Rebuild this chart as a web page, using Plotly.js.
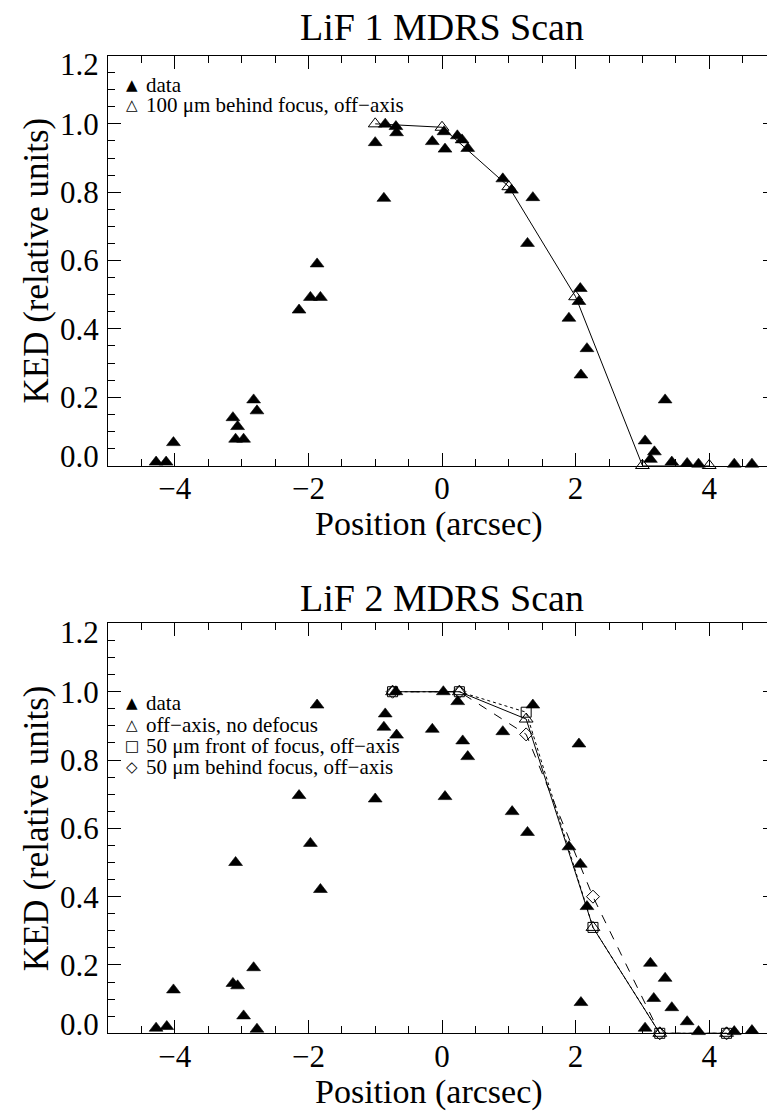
<!DOCTYPE html>
<html>
<head>
<meta charset="utf-8">
<script src="https://cdn.plot.ly/plotly-3.0.1.min.js"></script>
<style>
  html, body { margin: 0; padding: 0; overflow: hidden; background: #fff; }
  #chart { width: 800px; height: 1113px; }
</style>
</head>
<body>
<div id="chart"></div>
<script>
// ---------- data ----------
var titles = ["LiF 1 MDRS Scan", "LiF 2 MDRS Scan"];
var xTitle = "Position (arcsec)";
var yTitle = "KED (relative units)";

// LiF 1 measured data
var posTop = [-4.28,-4.13,-4.02,-3.13,-3.06,-3.09,-2.97,-2.82,-2.77,-2.14,-1.97,-1.82,-1.87,-1.00,-0.85,-0.87,-0.69,-0.68,-0.145,0.03,0.045,0.23,0.30,0.385,0.91,1.04,1.36,1.28,2.07,2.05,1.90,2.17,2.08,3.34,3.04,3.18,3.12,3.44,3.67,3.84,4.375,4.64];
var kedTop = [0.01,0.01,0.067,0.14,0.114,0.077,0.077,0.192,0.16,0.455,0.492,0.492,0.59,0.945,0.999,0.782,0.992,0.974,0.948,0.977,0.926,0.965,0.953,0.928,0.839,0.806,0.784,0.65,0.518,0.48,0.431,0.342,0.265,0.192,0.072,0.04,0.018,0.01,0.006,0.004,0.004,0.004];
// LiF 1 model: 100 um behind focus, off-axis
var modelPosTop = [-1, 0, 1, 2, 3, 4];
var modelKedTop = [1.0, 0.99, 0.816, 0.494, 0.0, 0.0];

// LiF 2 measured data
var posBot = [-4.28,-4.12,-4.02,-3.13,-3.06,-3.09,-2.97,-2.82,-2.77,-2.14,-1.97,-1.87,-1.82,-1.00,-0.85,-0.87,-0.68,-0.69,-0.145,0.02,0.045,0.235,0.31,0.385,0.91,1.05,1.28,1.36,1.90,2.05,2.07,2.17,2.08,3.12,3.34,3.17,3.44,3.04,3.67,3.84,4.375,4.64];
var kedBot = [0.015,0.02,0.127,0.146,0.139,0.50,0.051,0.192,0.012,0.696,0.556,0.961,0.421,0.686,0.935,0.896,0.873,1.0,0.89,1.0,0.693,0.971,0.856,0.81,0.883,0.649,0.588,0.961,0.546,0.847,0.495,0.371,0.09,0.205,0.161,0.102,0.075,0.015,0.034,0.005,0.005,0.008];
// LiF 2 models
var modelPosBot = [-0.74, 0.26, 1.26, 2.26, 3.26, 4.26];
var modelNoDefocus = [1.0, 1.0, 0.92, 0.31, 0.0, 0.0];
var modelFront50 = [1.0, 1.0, 0.94, 0.31, 0.0, 0.0];
var modelBehind50 = [1.0, 1.0, 0.875, 0.40, 0.0, 0.0];

var legendTop = ["data", "100 μm behind focus, off−axis"];
var legendBot = ["data", "off−axis, no defocus", "50 μm front of focus, off−axis", "50 μm behind focus, off−axis"];
var legendSymTop = ["▲", "△"];
var legendSymBot = ["▲", "△", "□", "◇"];

// y tick values and labels (end labels are drawn nudged inward, as in the reference)
var yTickVals = [0, 0.2, 0.4, 0.6, 0.8, 1.0, 1.2];
var yTickText = ["", "0.2", "0.4", "0.6", "0.8", "1.0", ""];
var yEndLabels = ["0.0", "1.2"];

// ---------- layout helpers ----------
var W = 800, H = 1113;
var ML = 108, MR = 24;
var FONT = "Liberation Serif";
function px(x) { return (x - ML) / (W - ML - MR); }
function py(y) { return 1 - y / H; }

var filled = { symbol: "triangle-up", size: 12, color: "#000", line: { color: "#000", width: 0.6 } };

var traces = [
  { x: posTop, y: kedTop, xaxis: "x", yaxis: "y", mode: "markers", marker: filled, cliponaxis: false, showlegend: false },
  { x: modelPosTop, y: modelKedTop, xaxis: "x", yaxis: "y", mode: "lines+markers", cliponaxis: false, showlegend: false,
    line: { color: "#000", width: 1 },
    marker: { symbol: "triangle-up-open", size: 12, color: "#000", line: { width: 1, color: "#000" } } },

  { x: posBot, y: kedBot, xaxis: "x2", yaxis: "y2", mode: "markers", marker: filled, cliponaxis: false, showlegend: false },
  { x: modelPosBot, y: modelNoDefocus, xaxis: "x2", yaxis: "y2", mode: "lines+markers", cliponaxis: false, showlegend: false,
    line: { color: "#000", width: 1, dash: "solid" },
    marker: { symbol: "triangle-up-open", size: 12, color: "#000", line: { width: 1, color: "#000" } } },
  { x: modelPosBot, y: modelFront50, xaxis: "x2", yaxis: "y2", mode: "lines+markers", cliponaxis: false, showlegend: false,
    line: { color: "#000", width: 1, dash: "dot" },
    marker: { symbol: "square-open", size: 10, color: "#000", line: { width: 1, color: "#000" } } },
  { x: modelPosBot, y: modelBehind50, xaxis: "x2", yaxis: "y2", mode: "lines+markers", cliponaxis: false, showlegend: false,
    line: { color: "#000", width: 1, dash: "dash" },
    marker: { symbol: "diamond-open", size: 10, color: "#000", line: { width: 1, color: "#000" } } }
];

function xAxis(anchor) {
  return {
    anchor: anchor, domain: [0, 1], range: [-5, 5],
    tickmode: "linear", tick0: 0, dtick: 2,
    ticks: "inside", ticklen: 13, tickwidth: 1, tickcolor: "#000",
    minor: { tickmode: "linear", dtick: 0.5, tick0: 0, ticks: "inside", ticklen: 7, tickwidth: 1, tickcolor: "#000", showgrid: false },
    showline: true, linecolor: "#000", linewidth: 1, mirror: "ticks",
    showgrid: false, zeroline: false,
    tickfont: { family: FONT, size: 31, color: "#000" },
    ticklabelstandoff: -5,
    fixedrange: true
  };
}
function yAxis(domain, anchor) {
  return {
    anchor: anchor, domain: domain, range: [0, 1.2],
    tickmode: "array", tickvals: yTickVals, ticktext: yTickText,
    ticks: "inside", ticklen: 13, tickwidth: 1, tickcolor: "#000",
    minor: { tickmode: "linear", dtick: 0.05, tick0: 0, ticks: "inside", ticklen: 7, tickwidth: 1, tickcolor: "#000", showgrid: false },
    showline: true, linecolor: "#000", linewidth: 1, mirror: "ticks",
    showgrid: false, zeroline: false,
    tickfont: { family: FONT, size: 31, color: "#000" },
    ticklabelstandoff: 2,
    fixedrange: true
  };
}

var topDom = [py(465.5), py(55.5)];
var botDom = [py(1033.3), py(623.4)];

var annotations = [];
function addText(text, x, y, size, opts) {
  var a = { text: text, xref: "paper", yref: "paper", x: px(x), y: py(y), showarrow: false, borderpad: 0,
    font: { family: FONT, size: size, color: "#000" }, xanchor: "center", yanchor: "middle" };
  for (var k in opts) a[k] = opts[k];
  annotations.push(a);
}
// titles
addText(titles[0], 442, 27, 38);
addText(titles[1], 442, 598, 38);
// axis titles
addText(xTitle, 429, 524, 34);
addText(xTitle, 429, 1092, 34);
addText(yTitle, 36, 260.5, 35, { textangle: -90 });
addText(yTitle, 36, 828.3, 35, { textangle: -90 });
// end tick labels of the y axes
addText(yEndLabels[0], 100, 456, 31, { xanchor: "right" });
addText(yEndLabels[1], 100, 64, 31, { xanchor: "right" });
addText(yEndLabels[0], 100, 1024, 31, { xanchor: "right" });
addText(yEndLabels[1], 100, 632, 31, { xanchor: "right" });
// legends
var legTopY = [85, 105];
for (var i = 0; i < legendTop.length; i++) {
  addText(legendSymTop[i], 131.5, legTopY[i], 15, { font: { family: "DejaVu Sans", size: 15, color: "#000" } });
  addText(legendTop[i], 145, legTopY[i], 21, { xanchor: "left" });
}
var legBotY = [703, 725, 746, 767];
for (var j = 0; j < legendBot.length; j++) {
  addText(legendSymBot[j], 131.5, legBotY[j], 15, { font: { family: "DejaVu Sans", size: 15, color: "#000" } });
  addText(legendBot[j], 145, legBotY[j], 21, { xanchor: "left" });
}

var layout = {
  width: W, height: H,
  margin: { l: ML, r: MR, t: 0, b: 0, pad: 0 },
  paper_bgcolor: "#fff", plot_bgcolor: "#fff",
  showlegend: false,
  xaxis: xAxis("y"),
  yaxis: yAxis(topDom, "x"),
  xaxis2: xAxis("y2"),
  yaxis2: yAxis(botDom, "x2"),
  annotations: annotations,
  font: { family: FONT, color: "#000" }
};

Plotly.newPlot("chart", traces, layout, { staticPlot: true, displayModeBar: false });
</script>
</body>
</html>
